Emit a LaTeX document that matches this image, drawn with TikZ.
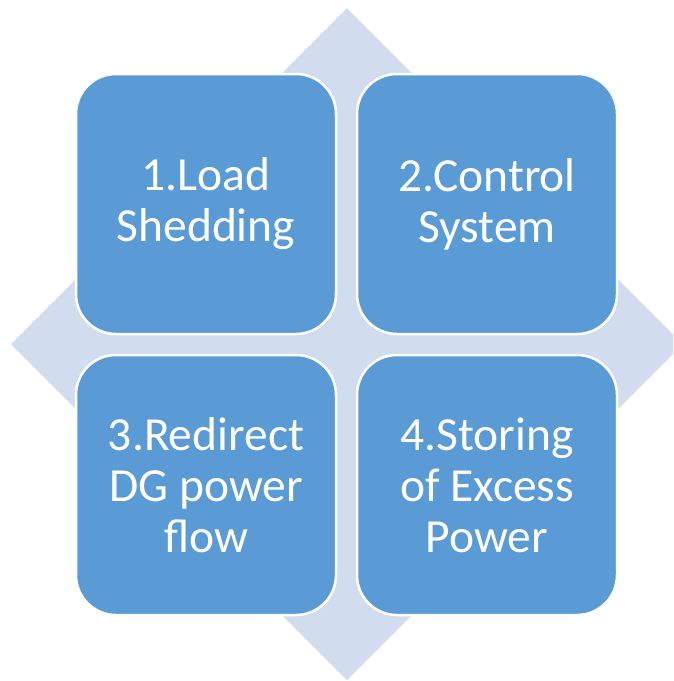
\documentclass[tikz,border=0pt]{standalone}
\usepackage{fontspec}
\setmainfont{Carlito}
\begin{document}
\begin{tikzpicture}[x=1pt,y=-1pt,
  tile/.style={draw=white, line width=2.5pt, fill=tileblue, rounded corners=40pt,
    minimum width=260pt, minimum height=260pt, inner sep=0pt,
    text=white, align=center, font=\fontsize{47.5}{51}\selectfont},
]
\definecolor{tileblue}{HTML}{5B9BD5}
\definecolor{diamondfill}{HTML}{D1DDEE}
\useasboundingbox (0,0) rectangle (673,681);
% background diamond, clipped at the right edge
\begin{scope}
  \clip (0,0) rectangle (673,681);
  \fill[diamondfill] (347,8) -- (683,344) -- (347,680) -- (11,344) -- cycle;
\end{scope}
% the four tiles
\node[tile] (load)    at (206,204) {1.Load\\Shedding};
\node[tile] (control) at (487,204) {2.Control\\System};
\node[tile] (redirect) at (206,485) {3.Redirect\\DG power\\flow};
\node[tile] (store)   at (487,485) {4.Storing\\of Excess\\Power};
\end{tikzpicture}
\end{document}
